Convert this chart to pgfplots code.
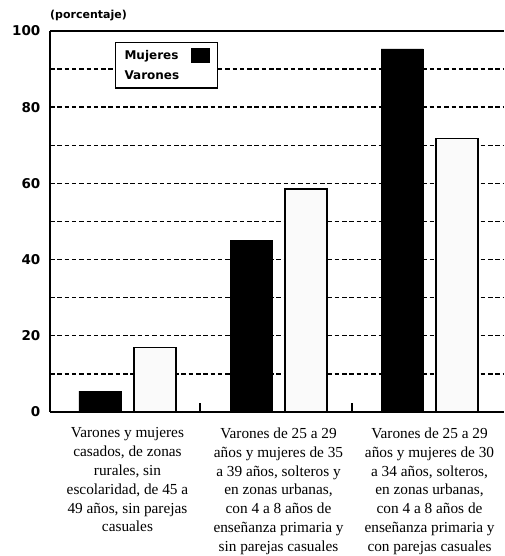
\documentclass[border=0pt]{standalone}
\usepackage{pgfplots}
\pgfplotsset{compat=1.18}
\usepackage{fontspec}
\setmainfont{Liberation Serif}
\newfontfamily\boldsans{DejaVu Sans}
\begin{document}
\begin{tikzpicture}[x=1pt,y=1pt]
\begin{axis}[
    at={(50pt,144pt)}, anchor=south west,
    scale only axis,
    width=454pt, height=381pt,
    xmin=-0.513, xmax=2.493,
    ymin=0, ymax=100,
    axis lines=left,
    axis line style={-, line width=1.8pt},
    ybar, bar width=42pt, ybar=13pt,
    ytick={0,20,...,100},
    minor ytick={10,30,...,90},
    ymajorgrids, yminorgrids,
    grid style={line width=1.4pt, dash pattern=on 4.5pt off 2.8pt, black},
    major grid style={line width=1.4pt, dash pattern=on 4.5pt off 2.8pt, black},
    minor grid style={line width=1.4pt, dash pattern=on 4.5pt off 2.8pt, black},
    tick style={draw=none},
    yticklabel style={font=\boldsans\bfseries\fontsize{13.5}{13.5}\selectfont, xshift=-4pt},
    /pgf/number format/assume math mode=true,
    xtick={0,1,2},
    xticklabels={
      {Varones y mujeres\\casados, de zonas\\rurales, sin\\escolaridad, de 45 a\\49 años, sin parejas\\casuales},
      {Varones de 25 a 29\\años y mujeres de 35\\a 39 años, solteros y\\en zonas urbanas,\\con 4 a 8 años de\\enseñanza primaria y\\sin parejas casuales},
      {Varones de 25 a 29\\años y mujeres de 30\\a 34 años, solteros,\\en zonas urbanas,\\con 4 a 8 años de\\enseñanza primaria y\\con parejas casuales}},
    xticklabel style={align=center, anchor=north, yshift=-8pt,
      font=\fontsize{15.3}{18.8}\selectfont},
    legend style={at={(0.143,0.971)}, anchor=north west,
      draw=black, line width=1.2pt,
      font=\boldsans\bfseries\fontsize{12}{12}\selectfont,
      inner xsep=7pt, inner ysep=5pt, row sep=6pt, column sep=10pt},
    legend plot pos=right,
    legend cell align=left,
    clip=false,
]
\addplot[fill=black, draw=black,
  legend image code/.code={\fill[black] (0pt,-7pt) rectangle (18pt,7pt);}]
  coordinates {(0,5.5) (1,45) (2,95.3)};
\addlegendentry{Mujeres}
\addplot[fill=gray!4, draw=black, line width=1.4pt,
  legend image code/.code={\path[draw=none, fill=none] (0pt,-7pt) rectangle (18pt,7pt);}]
  coordinates {(0,17) (1,58.5) (2,71.8)};
\addlegendentry{Varones}
\draw[line width=1.8pt] (rel axis cs:0,1) -- (rel axis cs:1,1);
\draw[line width=1.4pt] (axis cs:0.48,0) -- (axis cs:0.48,2.3);
\draw[line width=1.4pt] (axis cs:1.487,0) -- (axis cs:1.487,2.3);
\end{axis}
\node[anchor=base west, inner sep=0pt, text=black,
  font=\boldsans\bfseries\fontsize{11}{11}\selectfont]
  at (50,537) {(porcentaje)};
\pgfresetboundingbox
\path[use as bounding box] (0,0) rectangle (504,556);
\end{tikzpicture}
\end{document}
